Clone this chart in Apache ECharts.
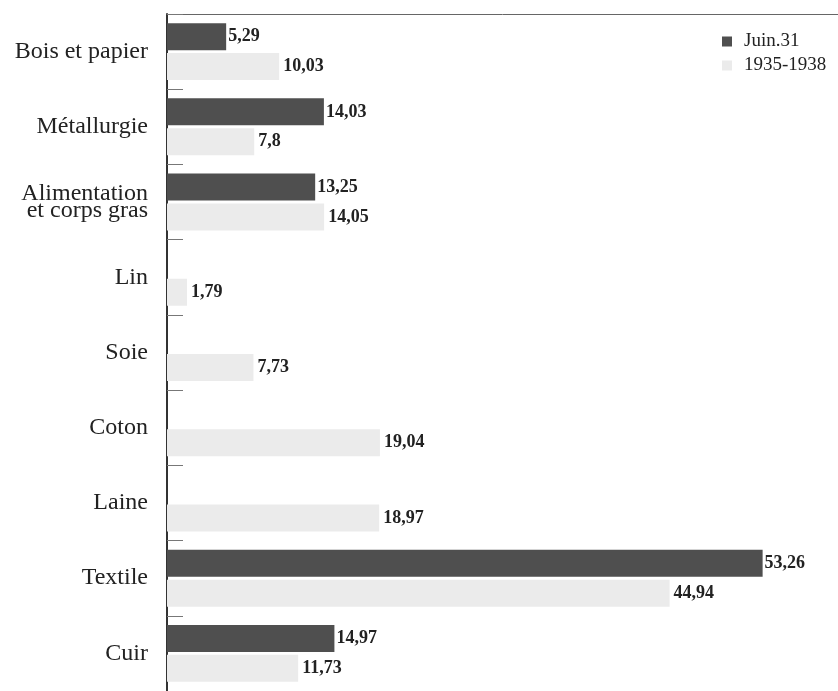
<!DOCTYPE html>
<html>
<head>
<meta charset="utf-8">
<script src="https://cdn.jsdelivr.net/npm/echarts@6/dist/echarts.min.js"></script>
<style>html,body{margin:0;padding:0;background:#fff}#c{width:838px;height:691px}</style>
</head>
<body>
<div id="c"></div>
<script>
const categories = ["Bois et papier", "Métallurgie", "Alimentation et corps gras", "Lin", "Soie", "Coton", "Laine", "Textile", "Cuir"];
const juin31 = [5.29, 14.03, 13.25, null, null, null, null, 53.26, 14.97];
const p1935_1938 = [10.03, 7.8, 14.05, 1.79, 7.73, 19.04, 18.97, 44.94, 11.73];
const seriesNames = ["Juin.31", "1935-1938"];

const FONT = '"Liberation Serif", "DejaVu Serif", serif';
const chart = echarts.init(document.getElementById('c'), null, {renderer: 'canvas'});
const fmt = p => String(p.value).replace('.', ',');
chart.setOption({
  animation: false,
  backgroundColor: '#fff',
  grid: {left: 167, top: 14, width: 679, height: 680, containLabel: false},
  legend: {
    orient: 'vertical', left: 717, top: 27, itemWidth: 10, itemHeight: 10, itemGap: 5,
    icon: 'rect',
    textStyle: {fontFamily: FONT, fontSize: 19, color: '#222', padding: [0, 0, 0, 7]},
    data: seriesNames
  },
  xAxis: {
    type: 'value', position: 'top', min: 0, max: 60,
    axisLine: {show: true, lineStyle: {color: '#666', width: 1}},
    axisTick: {show: false}, axisLabel: {show: false}, splitLine: {show: false}
  },
  yAxis: {
    type: 'category', inverse: true, data: categories,
    axisLine: {show: true, lineStyle: {color: '#333', width: 2}},
    axisTick: {show: true, inside: true, length: 16, lineStyle: {color: '#777', width: 1}},
    axisLabel: {
      margin: 19, fontFamily: FONT, fontSize: 24, color: '#222', lineHeight: 17,
      formatter: v => v.replace(' et corps', '\net corps')
    }
  },
  series: [
    {
      name: seriesNames[0], type: 'bar', data: juin31, barWidth: 27, barGap: '11%',
      itemStyle: {color: '#4f4f4f'},
      label: {show: true, position: 'right', distance: 2, fontFamily: FONT, fontSize: 18, fontWeight: 'bold', color: '#222', formatter: fmt}
    },
    {
      name: seriesNames[1], type: 'bar', data: p1935_1938, barWidth: 27,
      itemStyle: {color: '#ebebeb'},
      label: {show: true, position: 'right', distance: 4, fontFamily: FONT, fontSize: 18, fontWeight: 'bold', color: '#222', formatter: fmt}
    }
  ]
});
</script>
</body>
</html>
